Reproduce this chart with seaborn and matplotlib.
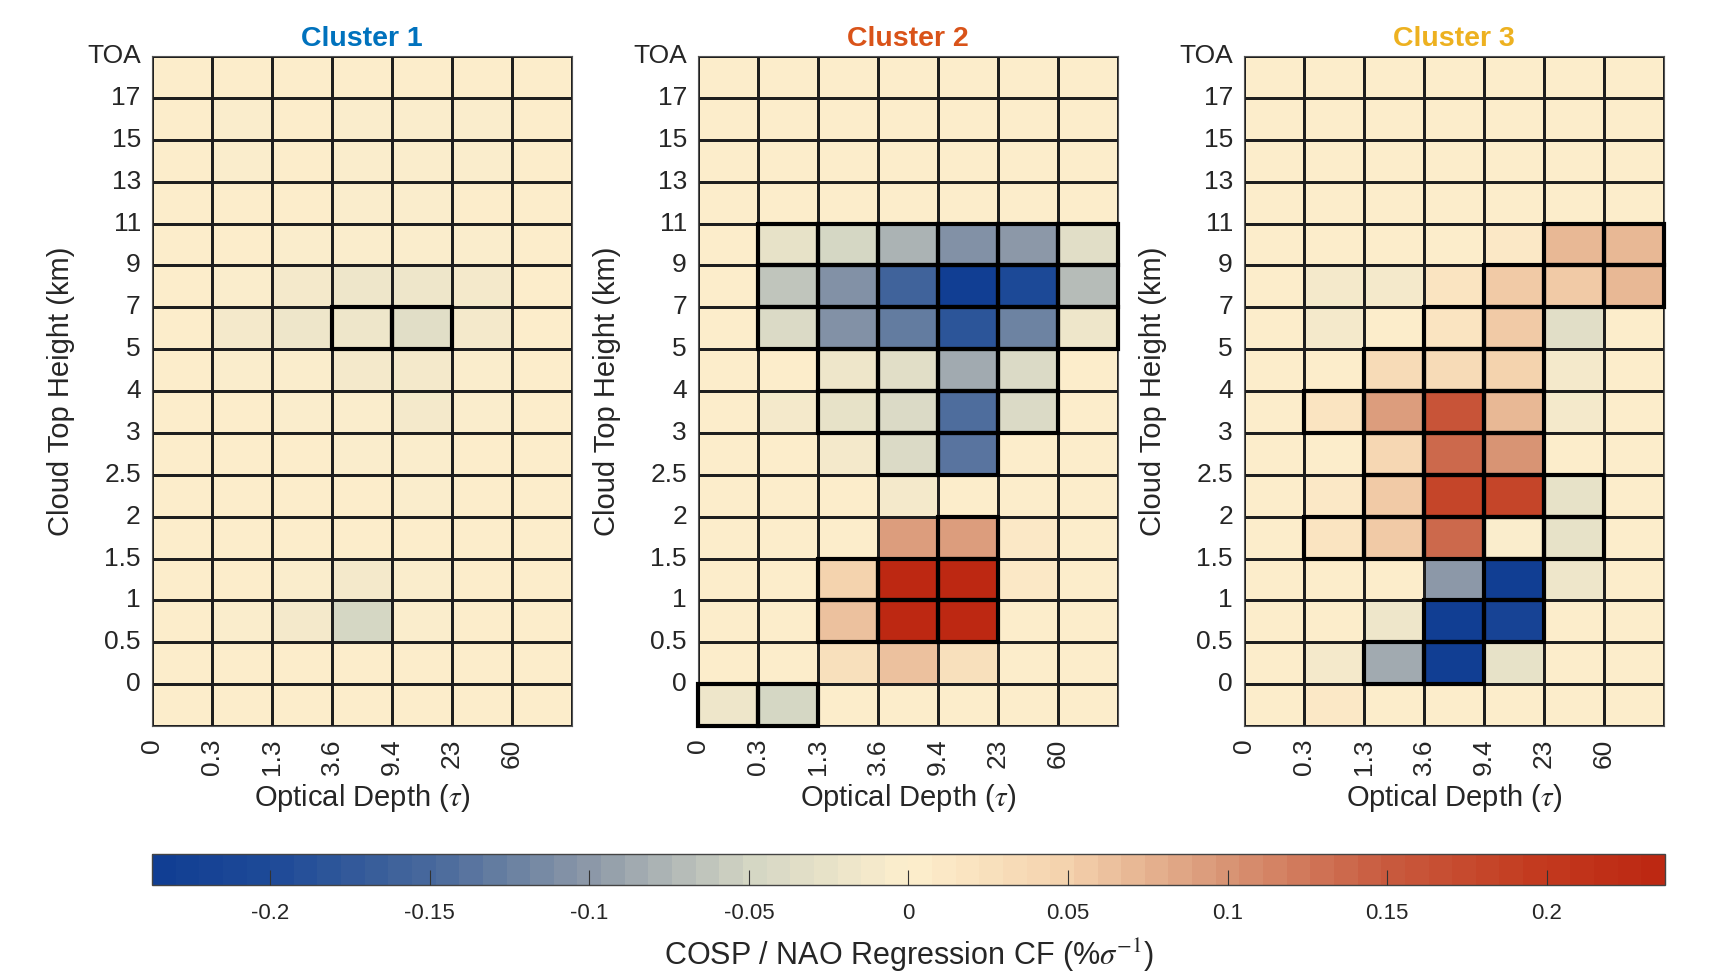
import numpy as np
import matplotlib
matplotlib.use("Agg")
import matplotlib.pyplot as plt
from matplotlib.colors import LinearSegmentedColormap
from matplotlib.patches import Rectangle
import seaborn as sns

# ISCCP-style joint histogram bins
tau_labels = ["0", "0.3", "1.3", "3.6", "9.4", "23", "60"]
cth_labels = ["TOA", "17", "15", "13", "11", "9", "7", "5", "4", "3",
              "2.5", "2", "1.5", "1", "0.5", "0"]
cluster_names = ["Cluster 1", "Cluster 2", "Cluster 3"]
cluster_colors = ["#0072BD", "#D95319", "#EDB120"]

# Regression of cloud fraction on NAO index (% per sigma), rows top (TOA) to bottom
cluster1 = [
    [0.003, 0.000, 0.003, 0.002, 0.000, 0.000, 0.001],
    [0.002, -0.004, 0.000, -0.002, -0.004, -0.003, 0.000],
    [0.002, -0.003, 0.000, -0.003, -0.004, -0.002, 0.000],
    [0.003, 0.000, 0.001, -0.003, -0.003, 0.000, 0.002],
    [0.002, 0.000, -0.004, -0.005, -0.004, -0.003, 0.001],
    [0.001, -0.004, -0.012, -0.016, -0.016, -0.008, 0.000],
    [0.001, -0.010, -0.016, -0.022, -0.030, -0.014, 0.000],
    [0.002, -0.002, -0.003, -0.008, -0.014, -0.004, 0.001],
    [0.002, 0.000, -0.002, -0.006, -0.014, -0.002, 0.002],
    [0.003, 0.001, 0.000, -0.003, -0.004, 0.000, 0.002],
    [0.003, 0.002, 0.002, 0.000, -0.002, 0.000, 0.002],
    [0.003, 0.002, 0.002, 0.001, 0.004, 0.000, 0.002],
    [0.002, 0.001, -0.002, -0.008, -0.006, 0.000, 0.002],
    [0.001, -0.002, -0.014, -0.050, -0.002, 0.001, 0.002],
    [0.003, 0.002, 0.001, 0.001, 0.003, 0.002, 0.003],
    [0.003, 0.002, 0.002, 0.001, 0.003, 0.002, 0.003],
]
cluster2 = [
    [0.003, 0.003, 0.003, 0.003, 0.003, 0.003, 0.003],
    [0.002, 0.002, 0.002, 0.003, 0.003, 0.002, 0.002],
    [0.002, 0.002, 0.002, 0.002, 0.002, 0.000, 0.002],
    [0.002, 0.002, 0.002, 0.001, 0.000, 0.000, 0.002],
    [0.001, -0.025, -0.050, -0.075, -0.110, -0.100, -0.035],
    [0.001, -0.060, -0.110, -0.160, -0.237, -0.205, -0.070],
    [0.001, -0.040, -0.105, -0.130, -0.185, -0.120, -0.020],
    [0.002, 0.001, -0.020, -0.035, -0.085, -0.040, 0.001],
    [0.002, -0.010, -0.025, -0.040, -0.145, -0.040, 0.002],
    [0.002, 0.000, -0.012, -0.040, -0.138, 0.002, 0.002],
    [0.002, 0.001, 0.000, -0.012, 0.004, 0.006, 0.002],
    [0.002, 0.002, 0.004, 0.095, 0.095, 0.010, 0.003],
    [0.002, 0.003, 0.048, 0.232, 0.232, 0.008, 0.003],
    [0.002, 0.003, 0.065, 0.232, 0.232, 0.006, 0.003],
    [0.003, 0.003, 0.025, 0.065, 0.025, 0.005, 0.003],
    [-0.022, -0.050, 0.003, 0.003, 0.003, 0.003, 0.003],
]
cluster3 = [
    [0.003, 0.003, 0.003, 0.003, 0.003, 0.003, 0.003],
    [0.002, 0.002, 0.002, 0.003, 0.003, 0.003, 0.003],
    [0.002, 0.000, 0.002, 0.003, 0.003, 0.003, 0.003],
    [0.002, 0.002, 0.001, 0.000, 0.002, 0.003, 0.003],
    [0.002, 0.002, 0.001, 0.002, 0.010, 0.068, 0.072],
    [0.002, -0.012, -0.012, 0.015, 0.058, 0.058, 0.070],
    [0.002, -0.010, 0.002, 0.018, 0.058, -0.035, 0.002],
    [0.002, 0.002, 0.035, 0.035, 0.045, -0.012, 0.002],
    [0.002, 0.022, 0.095, 0.158, 0.070, -0.012, 0.002],
    [0.002, 0.006, 0.042, 0.140, 0.100, 0.002, 0.002],
    [0.002, 0.012, 0.056, 0.185, 0.183, -0.028, 0.002],
    [0.002, 0.022, 0.058, 0.135, -0.004, -0.028, 0.002],
    [0.002, 0.002, 0.003, -0.100, -0.237, -0.015, 0.002],
    [0.002, 0.002, -0.018, -0.237, -0.215, 0.002, 0.002],
    [0.002, -0.008, -0.085, -0.235, -0.028, 0.002, 0.002],
    [0.003, 0.010, 0.002, 0.002, 0.002, 0.002, 0.002],
]

# Statistically significant bins (1 = significant), same row order
signif1 = ["0000000", "0000000", "0000000", "0000000", "0000000", "0000000",
           "0001100", "0000000", "0000000", "0000000", "0000000", "0000000",
           "0000000", "0000000", "0000000", "0000000"]
signif2 = ["0000000", "0000000", "0000000", "0000000", "0111111", "0111111",
           "0111111", "0011110", "0011110", "0001100", "0000000", "0000100",
           "0011100", "0011100", "0000000", "1100000"]
signif3 = ["0000000", "0000000", "0000000", "0000000", "0000011", "0000111",
           "0001100", "0011100", "0111100", "0011100", "0011110", "0111110",
           "0000100", "0001100", "0011000", "0000000"]

cbar_ticks = [-0.2, -0.15, -0.1, -0.05, 0, 0.05, 0.1, 0.15, 0.2]
cbar_ticklabels = ["-0.2", "-0.15", "-0.1", "-0.05", "0", "0.05", "0.1", "0.15", "0.2"]

vlim = 0.237

# Diverging blue - cream - red palette, 64 discrete levels
anchors = [
    (-0.237, "#113e93"), (-0.2, "#1f4b98"), (-0.15, "#4a6a9c"),
    (-0.1, "#8e9aa8"), (-0.05, "#d4d6c4"), (0.0, "#fdefcd"),
    (0.05, "#f4d2ad"), (0.1, "#d99676"), (0.15, "#c95c40"),
    (0.2, "#c33a1f"), (0.237, "#bd2812"),
]
cmap = LinearSegmentedColormap.from_list(
    "nao_div", [((v + vlim) / (2 * vlim), c) for v, c in anchors], N=64)

sns.set_theme(style="white")
plt.rcParams["font.family"] = ["Liberation Sans", "DejaVu Sans"]
plt.rcParams["mathtext.fontset"] = "stix"
plt.rcParams["text.color"] = "#262626"
plt.rcParams["axes.labelcolor"] = "#262626"
plt.rcParams["xtick.color"] = "#262626"
plt.rcParams["ytick.color"] = "#262626"

fig = plt.figure(figsize=(17.23, 9.76), dpi=100)
lefts = [0.0882, 0.4051, 0.7220]
axes = [fig.add_axes([l, 0.2561, 0.2438, 0.6865]) for l in lefts]
cax = fig.add_axes([0.0882, 0.0932, 0.8781, 0.0318])

datasets = [cluster1, cluster2, cluster3]
signifs = [signif1, signif2, signif3]

for i, (ax, data, sig) in enumerate(zip(axes, datasets, signifs)):
    arr = np.array(data)
    sns.heatmap(arr, ax=ax, cmap=cmap, vmin=-vlim, vmax=vlim,
                linewidths=0.75, linecolor="#1e1e1e",
                cbar=(i == 0), cbar_ax=cax if i == 0 else None,
                cbar_kws={"orientation": "horizontal", "ticks": cbar_ticks} if i == 0 else None)
    for r, row in enumerate(sig):
        for c, flag in enumerate(row):
            if flag == "1":
                ax.add_patch(Rectangle((c, r), 1, 1, fill=False, lw=3.0,
                                       ec="black", zorder=5, clip_on=False))
    ax.set_xticks(np.arange(len(tau_labels)))
    ax.set_xticklabels(tau_labels, rotation=90, fontsize=19)
    ax.set_yticks(np.arange(len(cth_labels)))
    ax.set_yticklabels(cth_labels, rotation=0, fontsize=19)
    ax.tick_params(axis="both", length=0)
    ax.tick_params(axis="x", pad=9)
    ax.tick_params(axis="y", pad=8)
    ax.set_xlabel(r"Optical Depth ($\tau$)", fontsize=21, labelpad=5)
    ax.set_ylabel("Cloud Top Height (km)", fontsize=21, labelpad=9)
    ax.set_title(cluster_names[i], color=cluster_colors[i], fontsize=20.5,
                 fontweight="bold", pad=7)
    for s in ax.spines.values():
        s.set_visible(True)
        s.set_color("#555555")
        s.set_linewidth(0.8)

cbar = axes[0].collections[0].colorbar
cbar.ax.set_axisbelow(False)
cbar.set_ticks(cbar_ticks)
cbar.set_ticklabels(cbar_ticklabels)
cbar.ax.tick_params(axis="x", direction="in", length=11, width=0.8,
                    color="#333333", labelsize=16, pad=13, bottom=True, top=False)
cbar.outline.set_edgecolor("#444444")
cbar.outline.set_linewidth(1.0)
cbar.set_label(r"COSP / NAO Regression CF (%$\sigma^{-1}$)", fontsize=22, labelpad=9)

fig.savefig("out.png", dpi=100)
